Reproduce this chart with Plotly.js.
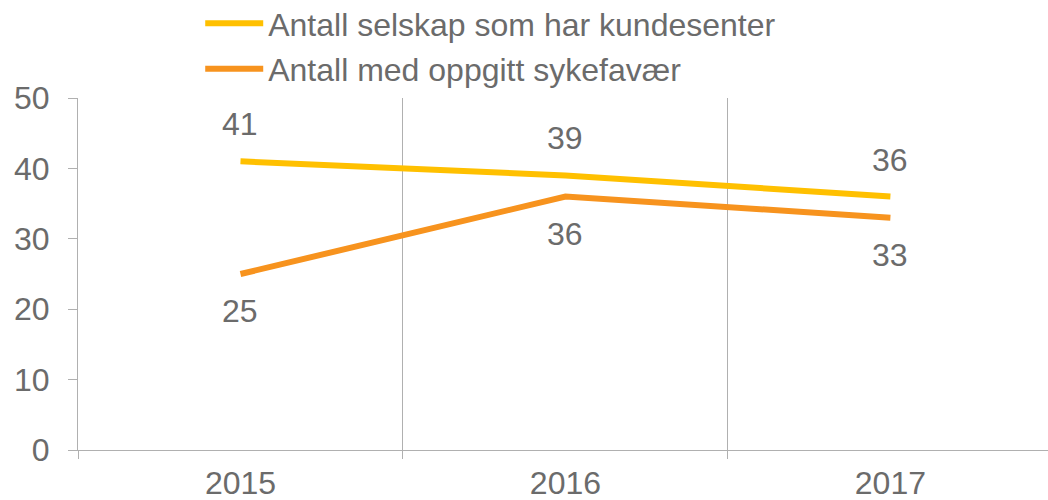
<!DOCTYPE html>
<html>
<head>
<meta charset="utf-8">
<script src="https://cdn.plot.ly/plotly-3.0.1.min.js"></script>
<style>html,body{margin:0;padding:0;background:#fff;}#chart{width:1048px;height:500px;}</style>
</head>
<body>
<div id="chart"></div>
<script>
var years = ['2015', '2016', '2017'];
var seriesNames = ['Antall selskap som har kundesenter', 'Antall med oppgitt sykefavær'];
var kundesenter = [41, 39, 36];
var sykefravaer = [25, 36, 33];
var yTicks = [0, 10, 20, 30, 40, 50];

var FONT = 'Liberation Sans, Arial, sans-serif';
var FS = 32;
var TXT = '#6b6b6b';
var AX = '#b0b0b0';
var YEL = '#FFC000';
var ORA = '#F7931E';

var traces = [
  {x: years, y: kundesenter, name: seriesNames[0], type: 'scatter', mode: 'lines',
   line: {color: YEL, width: 6}, legendgroup: 'a', hoverinfo: 'none'},
  {x: years, y: sykefravaer, name: seriesNames[1], type: 'scatter', mode: 'lines',
   line: {color: ORA, width: 6}, legendgroup: 'b', hoverinfo: 'none'}
];

// annotations on a category axis take the category's serial index
var annotations = [];
years.forEach(function (yr, i) {
  annotations.push({x: i, y: kundesenter[i], xref: 'x', yref: 'y', text: String(kundesenter[i]),
    showarrow: false, yshift: 37, yanchor: 'middle', font: {family: FONT, size: FS, color: TXT}});
  annotations.push({x: i, y: sykefravaer[i], xref: 'x', yref: 'y', text: String(sykefravaer[i]),
    showarrow: false, yshift: -37, yanchor: 'middle', font: {family: FONT, size: FS, color: TXT}});
});

var layout = {
  width: 1048, height: 500,
  margin: {l: 78, r: 0, t: 98, b: 50, pad: 0, autoexpand: false},
  paper_bgcolor: '#fff', plot_bgcolor: '#fff',
  font: {family: FONT, size: FS, color: TXT},
  showlegend: true,
  legend: {orientation: 'v', x: 0.126, xanchor: 'left', y: 1.29, yanchor: 'top',
           font: {family: FONT, size: FS, color: TXT}, tracegroupgap: 1, itemwidth: 58,
           bgcolor: 'rgba(0,0,0,0)'},
  xaxis: {type: 'category', range: [-0.5, 2.485], tickson: 'boundaries', automargin: false,
          showgrid: true, gridcolor: AX, gridwidth: 1,
          showline: true, linecolor: AX, linewidth: 1,
          ticks: 'outside', ticklen: 8, tickcolor: AX, tickwidth: 1,
          ticklabelstandoff: 5,
          tickfont: {family: FONT, size: FS, color: TXT}, zeroline: false, fixedrange: true},
  yaxis: {range: [0, 50], tickvals: yTicks, showgrid: false, zeroline: false, automargin: false,
          showline: true, linecolor: AX, linewidth: 1,
          ticks: 'outside', ticklen: 9, tickcolor: AX, tickwidth: 1,
          ticklabelstandoff: 12,
          tickfont: {family: FONT, size: FS, color: TXT}, fixedrange: true},
  annotations: annotations
};

Plotly.newPlot('chart', traces, layout, {displayModeBar: false, staticPlot: true});
</script>
</body>
</html>
